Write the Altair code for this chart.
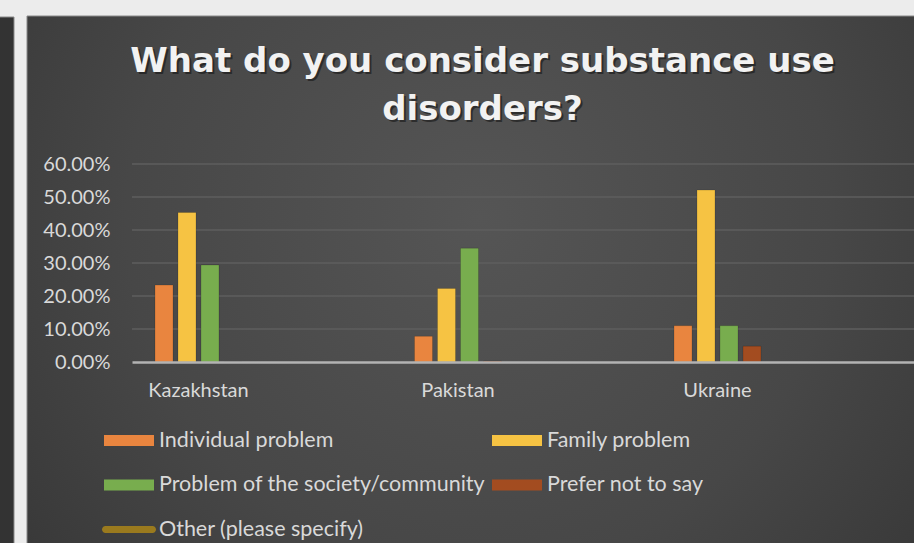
import altair as alt
import pandas as pd

countries = ["Kazakhstan", "Pakistan", "Ukraine"]
series = ["Individual problem", "Family problem", "Problem of the society/community",
          "Prefer not to say", "Other (please specify)"]
bar_series = series[:4]
individual = [0.233, 0.078, 0.110]
family = [0.453, 0.223, 0.521]
society = [0.294, 0.345, 0.110]
prefer_not = [0.0, 0.003, 0.048]
other = [0.0, 0.0, 0.0]
y_ticks = [0.1, 0.2, 0.3, 0.4, 0.5, 0.6]
title_lines = ["What do you consider substance use", "disorders?"]

colors = ["#E9853F", "#F6C343", "#78AD4E", "#A34C20", "#9A7A1E"]
rect_path = "M-2,-0.44H2V0.44H-2Z"
line_path = "M-1.88,-0.28H1.88A0.28,0.28 0 0 1 1.88,0.28H-1.88A0.28,0.28 0 0 1 -1.88,-0.28Z"
shapes = [rect_path] * 4 + [line_path]

rows = []
for name, vals in zip(series, [individual, family, society, prefer_not, other]):
    for c, v in zip(countries, vals):
        rows.append({"country": c, "series": name, "value": v})
df = pd.DataFrame(rows)
bars_df = df[df["series"].isin(bar_series)]
legend_df = pd.DataFrame({"series": series, "country": [countries[0]] * 5, "value": [0.0] * 5})
grid_df = pd.DataFrame({"value": y_ticks})

FONT = "Lato"
LABEL = "#d9d9d9"

y_scale = alt.Scale(domain=[0, 0.6], nice=False)
y_axis = alt.Axis(format=".2%", values=[0, 0.1, 0.2, 0.3, 0.4, 0.5, 0.6], grid=False,
                  domain=False, ticks=False, labelFont=FONT, labelFontSize=20,
                  labelColor=LABEL, labelPadding=22, title=None, zindex=1)
x_scale = alt.Scale(domain=countries, paddingInner=0.4875, paddingOuter=0.2505, align=0)
x_axis = alt.Axis(labelAngle=0, ticks=False, domain=True, domainColor="#b3b3b3",
                  domainWidth=2.5, labelFont=FONT, labelFontSize=20, labelColor=LABEL,
                  labelPadding=18, title=None, zindex=1)
color_scale = alt.Scale(domain=series, range=colors)
shape_scale = alt.Scale(domain=series, range=shapes)

bg_gradient = alt.RadialGradient(
    gradient="radial", x1=0.5, y1=0.42, x2=0.5, y2=0.42, r1=0, r2=0.78,
    stops=[alt.GradientStop(color="#555555", offset=0),
           alt.GradientStop(color="#474747", offset=0.5),
           alt.GradientStop(color="#2f2f2f", offset=1)])

one = pd.DataFrame({"k": [0]})
left_panel = alt.Chart(one).mark_rect(fill="#333333", stroke="#8a8a8a", strokeWidth=1).encode(
    x=alt.value(-140), x2=alt.value(-118), y=alt.value(-147), y2=alt.value(400))
main_panel = alt.Chart(one).mark_rect(fill=bg_gradient, stroke="#8a8a8a", strokeWidth=1).encode(
    x=alt.value(-105), x2=alt.value(800), y=alt.value(-148), y2=alt.value(400))

grid = alt.Chart(grid_df).mark_rule(color="#5e5e5e", strokeWidth=1.5).encode(
    y=alt.Y("value:Q", scale=y_scale, axis=y_axis))

leg = alt.Legend(orient="none", direction="horizontal", legendX=-15.5, legendY=264,
                 columns=2, title=None,
                 symbolSize=625, symbolOpacity=1, symbolStrokeWidth=0,
                 labelFont=FONT, labelFontSize=21.5, labelColor=LABEL, labelOffset=17.5,
                 columnPadding=6, rowPadding=21.5, labelLimit=400)

bars = alt.Chart(bars_df).mark_bar(stroke="#000000", strokeOpacity=0.15, strokeWidth=1).encode(
    x=alt.X("country:N", sort=countries, scale=x_scale, axis=x_axis),
    xOffset=alt.XOffset("series:N", sort=bar_series,
                        scale=alt.Scale(domain=bar_series, paddingInner=0.217, paddingOuter=1.0)),
    y=alt.Y("value:Q", scale=y_scale, axis=y_axis),
    color=alt.Color("series:N", scale=color_scale, legend=leg),
)

legend_layer = alt.Chart(legend_df).mark_point(filled=True, opacity=0, size=0).encode(
    x=alt.X("country:N", sort=countries, scale=x_scale, axis=x_axis),
    y=alt.Y("value:Q", scale=y_scale, axis=y_axis),
    color=alt.Color("series:N", scale=color_scale, legend=leg),
    shape=alt.Shape("series:N", scale=shape_scale, legend=leg),
)

title_shadow = alt.Chart(one).mark_text(
    font="DejaVu Sans", fontSize=34, fontWeight="bold", color="#111111", opacity=0.55,
    align="center", baseline="alphabetic", lineHeight=48, dx=2, dy=2).encode(
    x=alt.value(350.5), y=alt.value(-92), text=alt.value(title_lines))
title_text = alt.Chart(one).mark_text(
    font="DejaVu Sans", fontSize=34, fontWeight="bold", color="#f2f2f2",
    align="center", baseline="alphabetic", lineHeight=48).encode(
    x=alt.value(350.5), y=alt.value(-92), text=alt.value(title_lines))

chart = alt.layer(left_panel, main_panel, grid, bars, legend_layer, title_shadow, title_text).properties(
    width=782, height=198,
    padding={"left": 132, "top": 164, "right": 0, "bottom": 181},
    autosize=alt.AutoSizeParams(type="none"),
).configure(background="#ececec").configure_view(stroke=None)

chart.save("out.html", embed_options={"renderer": "svg", "actions": False})
